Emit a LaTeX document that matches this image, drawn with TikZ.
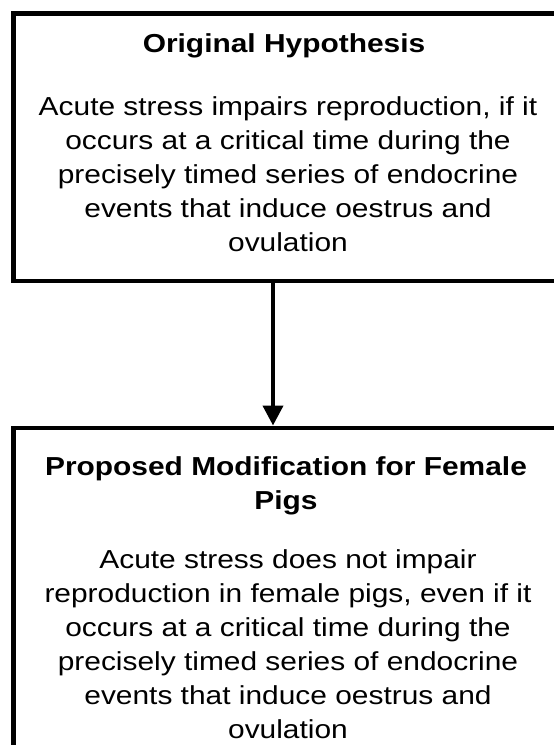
\documentclass[tikz,border=0pt]{standalone}
\usepackage{fontspec}
\setmainfont{Liberation Sans}[FakeStretch=1.15]
\usetikzlibrary{arrows.meta}
\begin{document}
\begin{tikzpicture}[x=1pt,y=-1pt,
  box/.style={draw=black,line width=4.5pt,minimum width=560pt,inner sep=0pt,anchor=north west},
  txt/.style={align=center,font=\fontsize{26}{34}\selectfont,inner sep=0pt,text depth=0pt},
  ttl/.style={align=center,font=\fontsize{26}{34}\selectfont\bfseries,inner sep=0pt},
  conn/.style={line width=4pt,-{Triangle[width=20pt,length=20pt]}}]
\useasboundingbox (0,0) rectangle (554,745);
\clip (0,0) rectangle (554,745);
\node[box,minimum height=267.5pt] (top) at (11,11) {};
\node[box,minimum height=400pt] (bot) at (11,425.5) {};
\node[ttl] (t1) at (284,46) {Original Hypothesis};
\node[txt] (b1) at (288,174) {Acute stress impairs reproduction, if it\\occurs at a critical time during the\\precisely timed series of endocrine\\events that induce oestrus and\\ovulation};
\node[ttl] (t2) at (286,486) {Proposed Modification for Female\\Pigs};
\node[txt] (b2) at (288,644) {Acute stress does not impair\\reproduction in female pigs, even if it\\occurs at a critical time during the\\precisely timed series of endocrine\\events that induce oestrus and\\ovulation};
\coordinate (ax) at (273,0);
\draw[conn] (top.south -| ax) -- (bot.north -| ax);
\end{tikzpicture}
\end{document}
